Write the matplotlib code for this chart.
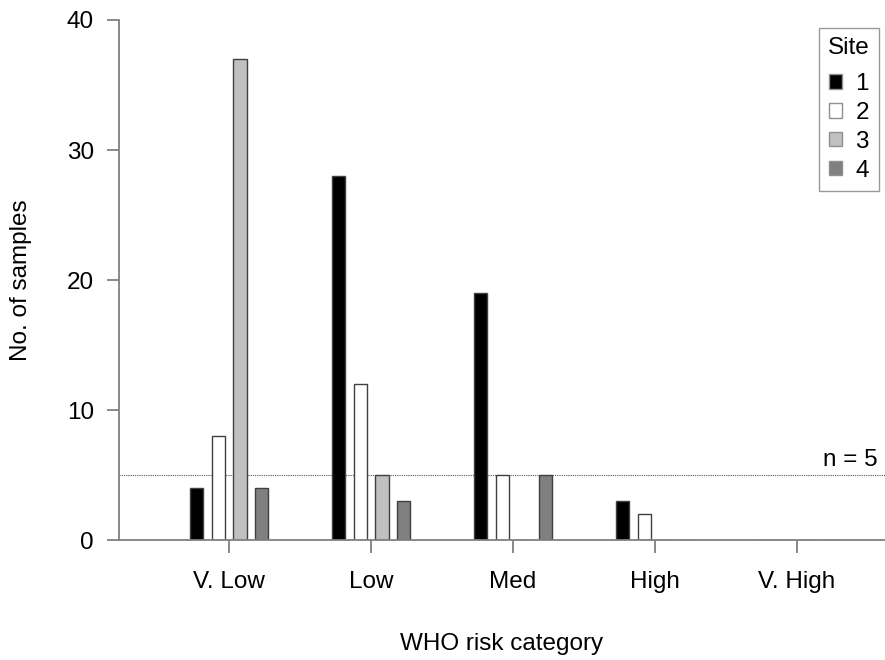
import numpy as np
import matplotlib.pyplot as plt

plt.rcParams['font.family'] = ['Liberation Sans', 'DejaVu Sans']

categories = ['V. Low', 'Low', 'Med', 'High', 'V. High']
sites = ['1', '2', '3', '4']
site1 = [4, 28, 19, 3, 0]
site2 = [8, 12, 5, 2, 0]
site3 = [37, 5, 0, 0, 0]
site4 = [4, 3, 5, 0, 0]
threshold = 5

series = [site1, site2, site3, site4]
colors = ['#000000', '#ffffff', '#c0c0c0', '#808080']
offsets = [-0.227, -0.077, 0.077, 0.227]
FS = 17.5

fig = plt.figure(figsize=(8.85, 6.6), dpi=100)
ax = fig.add_axes([0.1345, 0.1818, 0.8655, 0.7879])

x = np.arange(len(categories))
for vals, c, off, lab in zip(series, colors, offsets, sites):
    ax.bar(x + off, vals, width=0.092, color=c, edgecolor='#404040',
           linewidth=1.0, label=lab, zorder=2)

ax.axhline(threshold, color='#555555', linestyle=(0, (1, 1)), linewidth=0.8, zorder=1)
ax.text(4.565, threshold + 0.3, 'n = 5', ha='right', va='bottom', fontsize=FS)

ax.set_xlim(-0.775, 4.62)
ax.set_ylim(0, 40)
ax.set_yticks([0, 10, 20, 30, 40])
ax.set_xticks(x)
ax.set_xticklabels(categories)

for s in ['top', 'right']:
    ax.spines[s].set_visible(False)
for s in ['left', 'bottom']:
    ax.spines[s].set_color('#808080')
    ax.spines[s].set_linewidth(1.3)
ax.tick_params(axis='both', direction='out', length=9, width=1.3, color='#808080',
               labelsize=FS, pad=9)
ax.tick_params(axis='x', pad=13)

ax.set_xlabel('WHO risk category', fontsize=FS, labelpad=29)
ax.set_ylabel('No. of samples', fontsize=FS, labelpad=25)

leg = ax.legend(title='Site', loc='upper right', bbox_to_anchor=(0.9932, 0.9576),
                bbox_transform=fig.transFigure,
                fontsize=FS, title_fontsize=FS, frameon=True, fancybox=False,
                handlelength=0.55, handleheight=0.55, handletextpad=0.55,
                borderpad=0.38, borderaxespad=0, labelspacing=0.28)
leg._legend_box.sep = 10
leg.get_frame().set_edgecolor('#808080')
leg.get_frame().set_linewidth(1.0)
for h in leg.legend_handles:
    h.set_edgecolor('#909090')

fig.savefig('out.png', dpi=100)
